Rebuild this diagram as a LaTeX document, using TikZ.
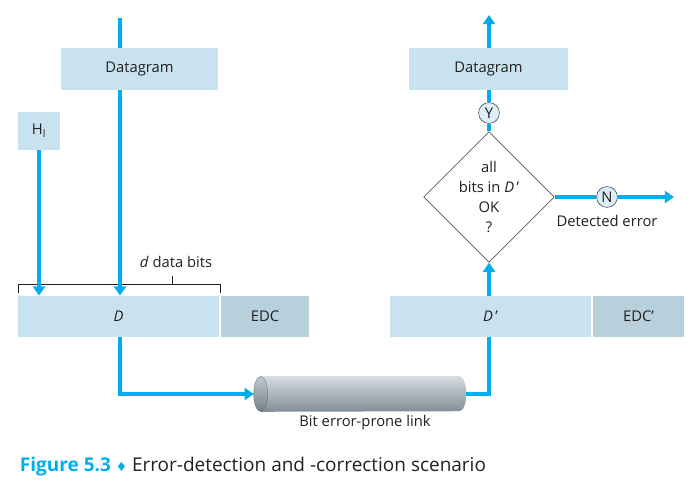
\documentclass[tikz,border=0pt]{standalone}
\usepackage{fontspec}
\setmainfont{Open Sans}
\newfontfamily\symfont{DejaVu Sans}
\usetikzlibrary{shapes.geometric,arrows.meta}
\definecolor{flowcyan}{HTML}{00AEEF}
\definecolor{boxblue}{HTML}{C9E2EF}
\definecolor{edcblue}{HTML}{B7D0DC}
\definecolor{circblue}{HTML}{DCEEF7}
\definecolor{inkgray}{HTML}{231F20}
\definecolor{cyltop}{HTML}{D6DDE2}
\definecolor{cylbot}{HTML}{818D96}

\begin{document}
\begin{tikzpicture}[x=0.025cm, y=-0.025cm, font=\fontsize{10.5}{14}\selectfont, text=inkgray]

    %--- Base styles
    \tikzstyle{data box}=[fill=boxblue, minimum height=1.03cm, inner sep=0pt]
    \tikzstyle{edc box}=[fill=edcblue, minimum height=1.03cm, inner sep=0pt]
    \tikzstyle{flow}=[flowcyan, line width=2.8pt]
    \tikzstyle{flow arrow}=[flow, -{Triangle[width=8.5pt,length=6.5pt]}]
    \tikzstyle{yn node}=[draw=black!75, fill=circblue, circle, minimum size=0.52cm, inner sep=0pt, thin]

    \useasboundingbox (0,0) rectangle (694,497);

    %--- Sender side
    \node[data box, minimum width=3.93cm] (dgL) at (139.5,69) {Datagram};
    \node[data box, minimum width=1.05cm, minimum height=0.95cm] (hl) at (39,131) {H\textsubscript{l}};
    \node[data box, minimum width=5.03cm] (dL) at (118.5,316.5) {\textit{D}};
    \node[edc box, minimum width=2.2cm] (edcL) at (265,316.5) {EDC};
    \coordinate (in) at (120,18);

    %--- Receiver side
    \node[data box, minimum width=3.98cm] (dgR) at (488.5,69) {Datagram};
    \node[data box, minimum width=5.03cm] (dR) at (490.5,316.5) {\textit{D}\,'};
    \node[edc box, minimum width=2.28cm] (edcR) at (638.5,316.5) {EDC'};
    \node[diamond, draw=black!80, fill=white, minimum width=3.05cm, minimum height=3.05cm,
          inner sep=0pt, align=center] (check) at (489,197) {all\\bits in \textit{D}\,'\\OK\\?};
    \node[yn node] (yes) at (489,113) {Y};
    \node[yn node] (no) at (607,197) {N};
    \node (err) at (607,221) {Detected error};
    \coordinate (out) at (489,15);
    \coordinate (errout) at (674,197);

    %--- Link (a shaded tube)
    \node[minimum width=5.3cm, minimum height=0.875cm, inner sep=0pt] (link) at (360,394) {};
    \shade[top color=cyltop, middle color=cyltop!85!cylbot, bottom color=cylbot]
        ([xshift=0.175cm]link.north west) -- ([xshift=-0.175cm]link.north east)
        arc[start angle=90, end angle=-90, x radius=0.175cm, y radius=0.4375cm]
        -- ([xshift=0.175cm]link.south west) -- cycle;
    \shade[top color=cyltop!75!cylbot, bottom color=cylbot!90!black] ([xshift=0.175cm]link.west)
        ellipse [x radius=0.175cm, y radius=0.4375cm];
    \draw[cylbot!75!black, very thin] ([xshift=0.175cm]link.west) ellipse [x radius=0.175cm, y radius=0.4375cm];
    \node (linklbl) at (365,423) {Bit error-prone link};

    %--- d data bits bracket
    \draw[inkgray, thin] (18,293) -- (18,284) -- (220,284) -- (220,293);
    \draw[inkgray, thin] (172,284) -- (172,276);
    \node (dbits) at (176,262) {\textit{d} data bits};

    %--- Flow lines
    \draw[flow] (in) -- (dgL.north -| in);
    \draw[flow arrow] (dgL.south -| in) -- (dL.north -| in);
    \draw[flow arrow] (hl.south) -- (hl.south |- dL.north);
    \draw[flow arrow] (dL.south -| in) |- (link.west);
    \draw[flow] (link.east) -| (dR.south -| out);
    \draw[flow arrow] (dR.north -| out) -- (check.south);
    \draw[flow] (check.north) -- (yes);
    \draw[flow] (yes) -- (dgR.south -| out);
    \draw[flow arrow] (dgR.north -| out) -- (out);
    \draw[flow] (check.east) -- (no);
    \draw[flow arrow] (no) -- (errout);

    %--- Caption
    \node[anchor=west, font=\fontsize{13.5}{16}\selectfont] (caption) at (15,467)
        {\textcolor{flowcyan}{\textbf{Figure 5.3}} \textcolor{flowcyan}{\symfont\small ♦} Error-detection and -correction scenario};

\end{tikzpicture}
\end{document}
